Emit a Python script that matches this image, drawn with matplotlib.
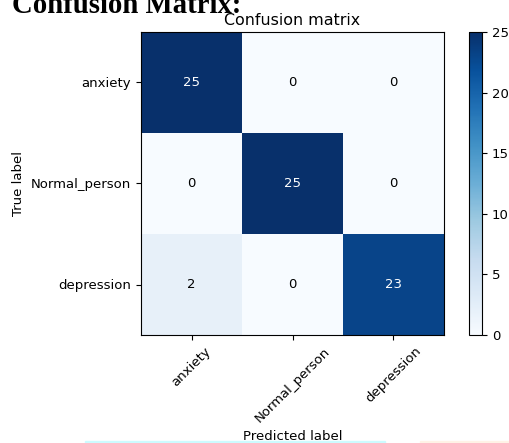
import numpy as np
import matplotlib
matplotlib.use("Agg")
import matplotlib.pyplot as plt
from matplotlib.patches import Rectangle

classes = ["anxiety", "Normal_person", "depression"]
cm = np.array([[25, 0, 0],
               [0, 25, 0],
               [2, 0, 23]])
cbar_ticks = [0, 5, 10, 15, 20, 25]

plt.rcParams["font.size"] = 9.5

fig = plt.figure(figsize=(5.10, 4.43), dpi=100)
ax = fig.add_axes([141 / 510, 1 - 335 / 443, 303 / 510, 303 / 443])
cax = fig.add_axes([469 / 510, 1 - 335 / 443, 13 / 510, 303 / 443])

im = ax.imshow(cm, interpolation="nearest", cmap=plt.cm.Blues, aspect="auto")
ax.set_title("Confusion matrix", fontsize=11.4, pad=5)
cb = fig.colorbar(im, cax=cax, ticks=cbar_ticks)
cb.ax.tick_params(labelsize=9.5)

ticks = np.arange(len(classes))
ax.set_xticks(ticks)
ax.set_xticklabels(classes, rotation=45)
ax.set_yticks(ticks)
ax.set_yticklabels(classes)

thresh = cm.max() / 2.0
for i in range(cm.shape[0]):
    for j in range(cm.shape[1]):
        ax.text(j, i, format(cm[i, j], "d"), ha="center", va="center",
                color="white" if cm[i, j] > thresh else "black")

ax.set_ylabel("True label")
ax.set_xlabel("Predicted label", labelpad=4)

# heading of the surrounding document, cut off at the top
fig.text(12 / 510, 1 - 13 / 443, "Confusion Matrix:", fontsize=20.7,
         fontweight="bold", family="Liberation Serif", va="baseline")

# faint page strips at the bottom edge
fig.patches.append(Rectangle((85 / 510, 0), 300 / 510, 2 / 443,
                             transform=fig.transFigure, color="#ccfbff", zorder=0))
fig.patches.append(Rectangle((420 / 510, 0), 90 / 510, 2 / 443,
                             transform=fig.transFigure, color="#fff2e6", zorder=0))

fig.savefig("out.png", dpi=100)
